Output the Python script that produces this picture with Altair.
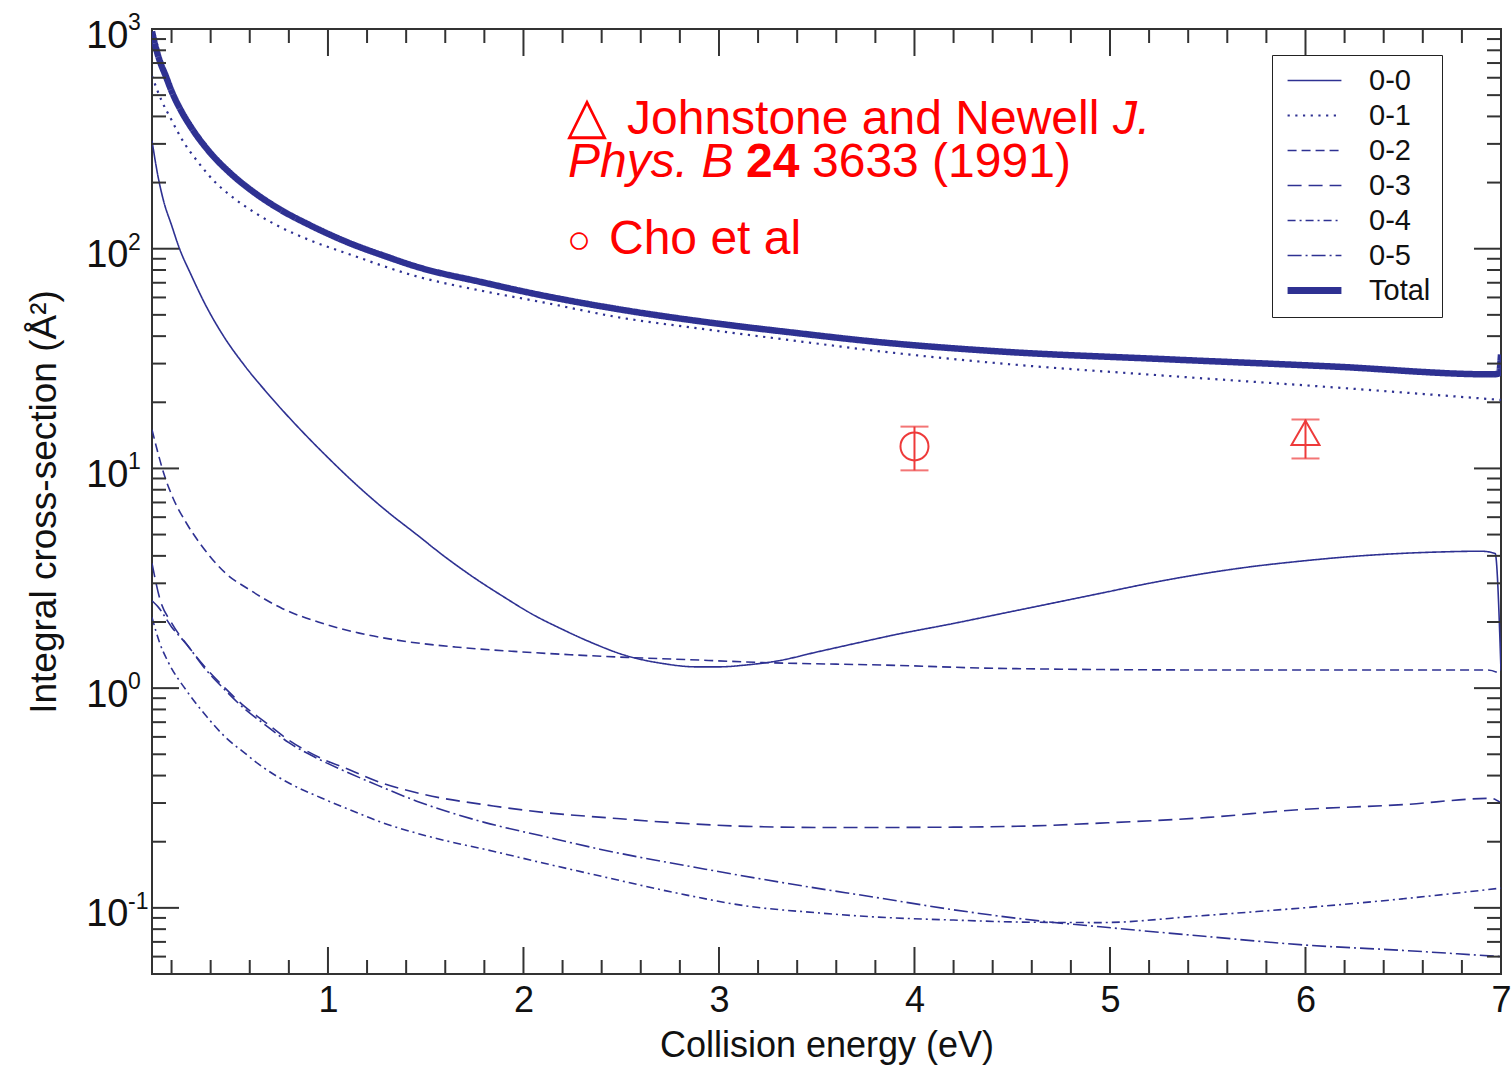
import altair as alt
import pandas as pd

# ---------------- data ----------------
series = ["0-0", "0-1", "0-2", "0-3", "0-4", "0-5", "Total"]

x_00 = [0.1, 0.13, 0.16, 0.2, 0.239, 0.3, 0.376, 0.47, 0.572, 0.7, 0.866, 1.0, 1.16, 1.3, 1.454, 1.6,
        1.748, 1.9, 2.041, 2.2, 2.335, 2.532, 2.7, 2.884, 3.0, 3.14, 3.3, 3.5, 3.7, 3.9, 4.2, 4.43, 4.65,
        4.95, 5.2, 5.46, 5.7, 5.97, 6.2, 6.48, 6.7, 6.9, 6.97, 7.0]
y_00 = [310, 215, 164, 128, 101, 76, 55, 39.5, 29.5, 21.5, 14.8, 11.2, 8.2, 6.4, 5.0, 3.95,
        3.18, 2.6, 2.18, 1.85, 1.63, 1.40, 1.30, 1.25, 1.25, 1.275, 1.33, 1.46, 1.6, 1.75, 1.97, 2.17, 2.38,
        2.7, 3.0, 3.3, 3.55, 3.78, 3.95, 4.1, 4.17, 4.2, 4.1, 1.2]

x_01 = [0.1, 0.15, 0.2, 0.25, 0.34, 0.425, 0.5, 0.62, 0.76, 0.9, 1.1, 1.45, 1.8, 2.1, 2.5, 2.93,
        3.4, 3.79, 4.43, 5.29, 6.14, 7.0]
y_01 = [610, 470, 385, 318, 245, 200, 175, 147, 125, 110, 95, 75, 64, 57, 48.5, 43.0,
        38.0, 34.4, 30.1, 26.4, 23.4, 20.5]

x_02 = [0.1, 0.13, 0.16, 0.2, 0.278, 0.35, 0.474, 0.6, 0.768, 0.95, 1.16, 1.4, 1.649, 1.95, 2.238,
        2.53, 2.825, 3.2, 3.9, 4.43, 5.5, 6.93, 7.0]
y_02 = [15.0, 11.8, 9.5, 7.6, 5.6, 4.5, 3.35, 2.8, 2.3, 2.0, 1.78, 1.63, 1.54, 1.47, 1.42,
        1.38, 1.35, 1.31, 1.27, 1.23, 1.21, 1.21, 1.16]

x_03 = [0.1, 0.14, 0.2, 0.278, 0.37, 0.474, 0.57, 0.67, 0.8, 0.964, 1.11, 1.258, 1.454, 1.845, 2.1,
        2.43, 2.8, 3.14, 3.6, 4.2, 4.6, 4.95, 5.5, 5.97, 6.5, 6.95, 7.0]
y_03 = [3.7, 2.55, 1.98, 1.58, 1.25, 1.0, 0.83, 0.71, 0.58, 0.48, 0.425, 0.375, 0.334, 0.291, 0.272,
        0.257, 0.243, 0.235, 0.232, 0.233, 0.236, 0.243, 0.258, 0.28, 0.295, 0.315, 0.30]

x_04 = [0.1, 0.14, 0.18, 0.278, 0.37, 0.474, 0.57, 0.67, 0.8, 0.964, 1.11, 1.258, 1.5, 1.845, 2.1,
        2.433, 2.8, 3.14, 3.5, 3.79, 4.2, 4.6, 4.95, 5.46, 5.97, 6.5, 7.0]
y_04 = [2.1, 1.6, 1.33, 0.97, 0.76, 0.60, 0.51, 0.435, 0.37, 0.317, 0.28, 0.248, 0.213, 0.181, 0.160,
        0.137, 0.116, 0.102, 0.095, 0.091, 0.088, 0.086, 0.0857, 0.092, 0.0997, 0.11, 0.123]

x_05 = [0.1, 0.13, 0.2, 0.278, 0.37, 0.474, 0.57, 0.67, 0.8, 0.964, 1.11, 1.258, 1.454, 1.8, 2.1,
        2.39, 2.93, 3.4, 3.79, 4.2, 4.65, 4.95, 5.5, 5.97, 6.5, 7.0]
y_05 = [2.5, 2.35, 1.9, 1.58, 1.23, 0.98, 0.81, 0.69, 0.565, 0.47, 0.41, 0.36, 0.306, 0.245, 0.212,
        0.185, 0.150, 0.127, 0.112, 0.098, 0.087, 0.082, 0.074, 0.068, 0.064, 0.060]

x_tot = [0.1, 0.12, 0.14, 0.17, 0.2, 0.25, 0.3, 0.4, 0.5, 0.62, 0.76, 0.9, 1.1, 1.3, 1.45, 1.8,
         2.07, 2.5, 2.93, 3.4, 3.79, 4.43, 5.29, 6.14, 6.96, 6.99, 7.0]
y_tot = [975, 820, 715, 612, 522, 423, 357, 272, 221, 181, 150, 129, 107, 92, 83, 70,
         62, 52.8, 46.4, 41.3, 37.8, 34.1, 31.4, 29.1, 26.8, 27.1, 33]

# experimental points
cho_x = [4.0]
cho_y = [12.6]
cho_lo = [9.8]
cho_hi = [15.5]
jn_x = [6.0]
jn_y = [14.5]
jn_lo = [11.1]
jn_hi = [16.7]

# axes
x_label_values = [1, 2, 3, 4, 5, 6, 7]
y_label_values = [0.1, 1, 10, 100, 1000]
y_label_exponents = ["-1", "0", "1", "2", "3"]
x_major_ticks = [1, 2, 3, 4, 5, 6]
x_minor_ticks = [0.2, 0.4, 0.6, 0.8, 1.2, 1.4, 1.6, 1.8, 2.2, 2.4, 2.6, 2.8, 3.2, 3.4, 3.6, 3.8,
                 4.2, 4.4, 4.6, 4.8, 5.2, 5.4, 5.6, 5.8, 6.2, 6.4, 6.6, 6.8]
y_major_ticks = [0.1, 1, 10, 100]
y_minor_ticks = [0.06, 0.07, 0.08, 0.09, 0.2, 0.3, 0.4, 0.5, 0.6, 0.7, 0.8, 0.9,
                 2, 3, 4, 5, 6, 7, 8, 9, 20, 30, 40, 50, 60, 70, 80, 90,
                 200, 300, 400, 500, 600, 700, 800, 900]

# ---------------- styling ----------------
W, H = 1512, 1066          # whole chart (autosize fit)
FONT = "Liberation Sans"
BLUE = "#2e3192"
RED = "#ff0000"
PT_RED = "#ee3a3a"
dash_range = [[1, 0], [2.2, 5.5], [9, 5], [14, 7], [8, 4, 2, 4], [14, 4, 2, 4], [1, 0]]
MAJ, MIN = 27, 14

xs = [x_00, x_01, x_02, x_03, x_04, x_05, x_tot]
ys = [y_00, y_01, y_02, y_03, y_04, y_05, y_tot]
rows = []
for name, xv, yv in zip(series, xs, ys):
    for a, b in zip(xv, yv):
        rows.append({"series": name, "x": a, "y": b})
df = pd.DataFrame(rows)

xscale = alt.Scale(domain=[0.1, 7], nice=False, zero=False)
yscale = alt.Scale(type="log", domain=[0.05, 1000], nice=False)

X = alt.X("x:Q", scale=xscale,
          axis=alt.Axis(values=x_label_values, format="d", tickSize=0, domain=False, grid=False,
                        labelFontSize=36, labelPadding=9, labelFlush=False, labelFont=FONT,
                        labelColor="#111", title="Collision energy (eV)", titleFontSize=36,
                        titleFont=FONT, titleFontWeight="normal", titleColor="#111",
                        titlePadding=10, labelOverlap=False))
Y = alt.Y("y:Q", scale=yscale,
          axis=alt.Axis(values=y_label_values, tickSize=0, domain=False, grid=False,
                        labelExpr="'10'", labelFontSize=38, labelPadding=24, labelOffset=7,
                        labelFont=FONT, labelColor="#111", labelFlush=False, labelOverlap=False,
                        title="Integral cross-section (Å²)", titleFontSize=37, titleFont=FONT,
                        titleFontWeight="normal", titleColor="#111", titlePadding=22))

legend = alt.Legend(
    title=None, orient="none", legendX=1120, legendY=26,
    strokeColor="#222", fillColor="white", padding=11,
    symbolType="stroke", symbolSize=2900, symbolStrokeColor=BLUE, symbolOffset=17,
    symbolStrokeWidth=alt.ExprRef("datum.value == 'Total' ? 7 : (datum.value == '0-1' ? 2.2 : 1.6)"),
    labelFontSize=29, labelFont=FONT, labelColor="#111", labelOffset=40,
    rowPadding=5,
)
dash = alt.StrokeDash("series:N", scale=alt.Scale(domain=series, range=dash_range), legend=legend)

base = alt.Chart(df)
thin = base.transform_filter(
    (alt.datum.series != "Total") & (alt.datum.series != "0-1")
).mark_line(color=BLUE, strokeWidth=1.6, clip=True, interpolate="monotone").encode(
    x=X, y=Y, strokeDash=dash, detail="series:N")
dotted = base.transform_filter(alt.datum.series == "0-1").mark_line(
    color=BLUE, strokeWidth=2.2, clip=True, interpolate="monotone"
).encode(x="x:Q", y="y:Q", strokeDash=dash)
total = base.transform_filter(alt.datum.series == "Total").mark_line(
    color=BLUE, strokeWidth=6.5, clip=True, interpolate="monotone"
).encode(x="x:Q", y="y:Q", strokeDash=dash)

# inward ticks (lengths in px, positions from the scales)
tick_color = "#333"
def tick_layers():
    layers = []
    for vals, length in [(x_major_ticks, MAJ), (x_minor_ticks, MIN)]:
        d = pd.DataFrame({"x": vals})
        layers.append(alt.Chart(d).mark_rule(color=tick_color, strokeWidth=2).encode(
            x="x:Q", y=alt.value({"expr": "height"}), y2=alt.value({"expr": "height - %d" % length})))
        layers.append(alt.Chart(d).mark_rule(color=tick_color, strokeWidth=2).encode(
            x="x:Q", y=alt.value(0), y2=alt.value(length)))
    for vals, length in [(y_major_ticks, MAJ), (y_minor_ticks, MIN)]:
        d = pd.DataFrame({"y": vals})
        layers.append(alt.Chart(d).mark_rule(color=tick_color, strokeWidth=2).encode(
            y="y:Q", x=alt.value(0), x2=alt.value(length)))
        layers.append(alt.Chart(d).mark_rule(color=tick_color, strokeWidth=2).encode(
            y="y:Q", x=alt.value({"expr": "width"}), x2=alt.value({"expr": "width - %d" % length})))
    return layers

# exponents of the y tick labels
exp_df = pd.DataFrame({"y": y_label_values, "e": y_label_exponents})
exps = alt.Chart(exp_df).mark_text(
    align="left", baseline="middle", fontSize=23, font=FONT, color="#111", dy=-6
).encode(y="y:Q", x=alt.value(-24), text="e:N")

# experimental points
pts_df = pd.DataFrame({
    "x": cho_x + jn_x, "y": cho_y + jn_y, "lo": cho_lo + jn_lo, "hi": cho_hi + jn_hi,
    "src": ["Cho"] * len(cho_x) + ["JN"] * len(jn_x),
})
eb = alt.Chart(pts_df).mark_rule(color=PT_RED, strokeWidth=2).encode(x="x:Q", y="lo:Q", y2="hi:Q")
cap_lo = alt.Chart(pts_df).mark_tick(color=PT_RED, orient="horizontal", size=28, thickness=2).encode(x="x:Q", y="lo:Q")
cap_hi = alt.Chart(pts_df).mark_tick(color=PT_RED, orient="horizontal", size=28, thickness=2).encode(x="x:Q", y="hi:Q")
pt_c = alt.Chart(pts_df).transform_filter(alt.datum.src == "Cho").mark_point(
    shape="circle", size=784, filled=False, color=PT_RED, strokeWidth=2, opacity=1).encode(x="x:Q", y="y:Q")
pt_t = alt.Chart(pts_df).transform_filter(alt.datum.src == "JN").mark_point(
    shape="triangle-up", size=784, filled=False, color=PT_RED, strokeWidth=2, opacity=1).encode(x="x:Q", y="y:Q")

# annotation text (pixel layout inside the plot)
ann_text = ["△", "Johnstone and Newell", "J.", "Phys. B", "24", "3633 (1991)", "○", "Cho et al"]
ann_x = [415, 475, 961, 416, 594, 660, 415, 457]
ann_y = [104, 105, 105, 148, 148, 148, 224, 225]
ann_size = [52, 48, 48, 48, 48, 48, 40, 48]
ann_style = ["normal", "normal", "italic", "italic", "normal", "normal", "normal", "normal"]
ann_weight = ["normal", "normal", "normal", "normal", "bold", "normal", "normal", "normal"]

ann_layers = []
for t, ax, ay, fs, st, wt in zip(ann_text, ann_x, ann_y, ann_size, ann_style, ann_weight):
    ann_layers.append(
        alt.Chart(pd.DataFrame({"t": [t]})).mark_text(
            align="left", baseline="alphabetic", fontSize=fs, font=FONT + ", DejaVu Sans",
            fontStyle=st, fontWeight=wt, color=RED
        ).encode(text="t:N", x=alt.value(ax), y=alt.value(ay))
    )

chart = alt.layer(thin, dotted, total, *tick_layers(), exps, eb, cap_lo, cap_hi, pt_c, pt_t,
                  *ann_layers).properties(
    width=W, height=H,
    autosize=alt.AutoSizeParams(type="fit", contains="padding"),
    padding={"left": 25, "top": 12, "right": 0, "bottom": 3},
    background="white",
).configure_view(stroke="#333", strokeWidth=2).configure_axis(labelFont=FONT, titleFont=FONT)

chart.save("out.html", embed_options={"renderer": "svg", "actions": False})
